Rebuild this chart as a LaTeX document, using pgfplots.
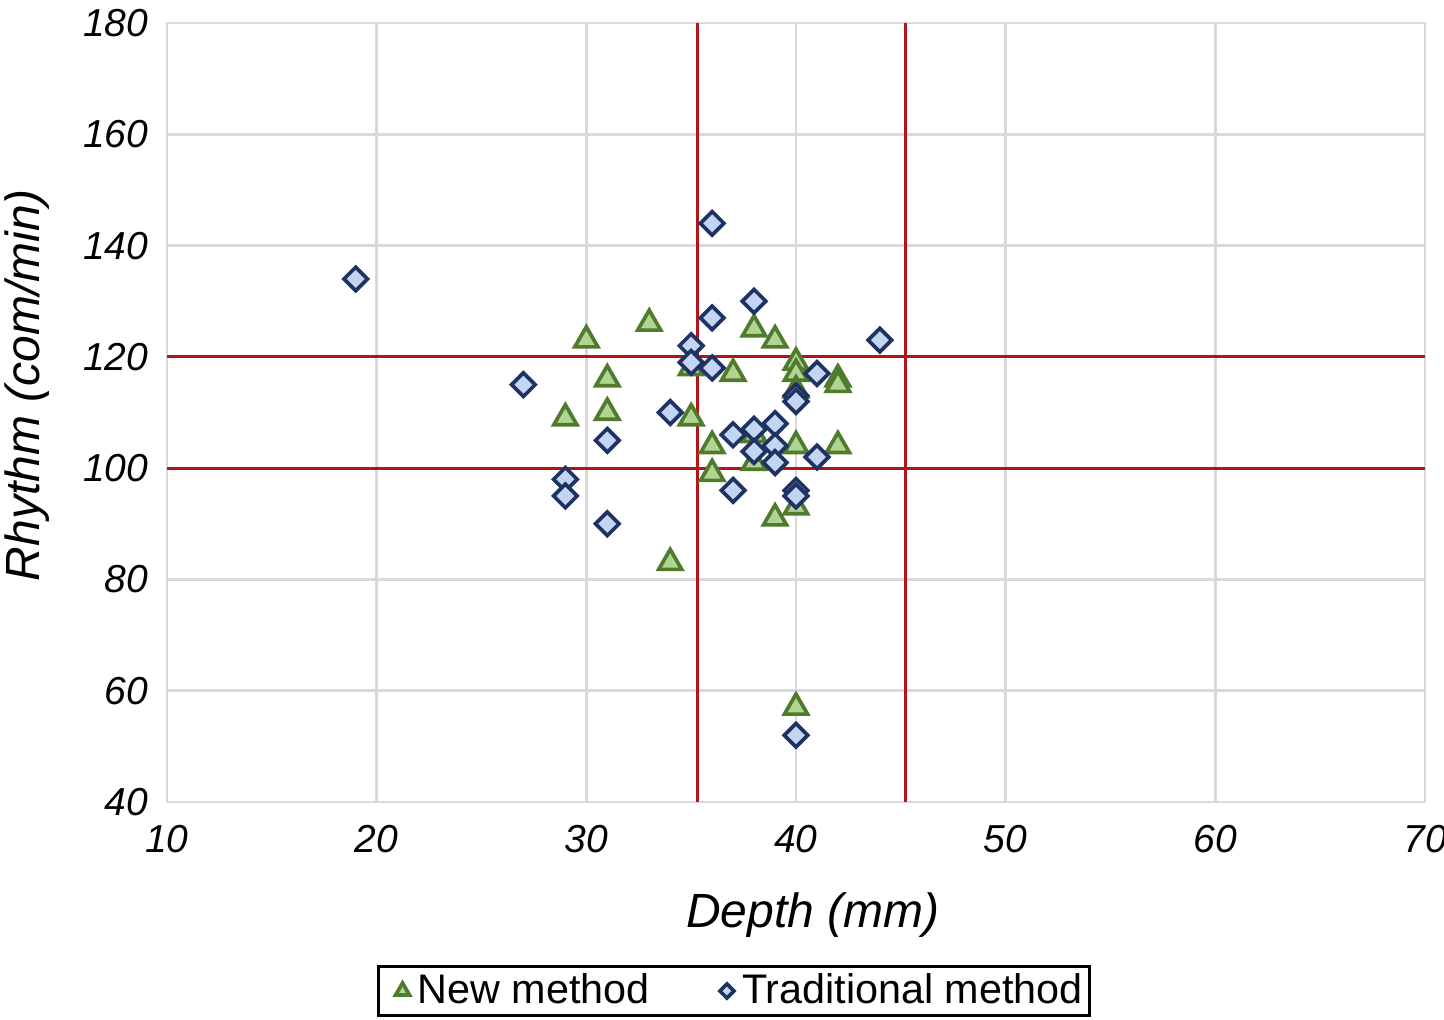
\documentclass[border=0pt]{standalone}
\usepackage{fontspec}
\setmainfont{Liberation Sans}
\usepackage{pgfplots}
\pgfplotsset{compat=1.18}
\definecolor{gridgray}{RGB}{217,217,217}
\definecolor{redline}{RGB}{180,20,24}
\definecolor{trifill}{RGB}{176,212,146}
\definecolor{triedge}{RGB}{80,122,44}
\definecolor{diafill}{RGB}{194,213,242}
\definecolor{diaedge}{RGB}{30,50,100}
\pgfplotsset{myleg/.style={legend image code/.code={\path (0pt,0pt) (8.9pt,0pt);\draw[mark repeat=2,mark phase=2,##1,every mark/.append style={scale=0.6}] plot coordinates {(0pt,0pt)(5.8pt,0pt)(8.9pt,0pt)};}}}
\begin{document}
\begin{tikzpicture}
\begin{axis}[
  at={(0,0)}, anchor=south west,
  scale only axis, width=377.4pt, height=233.7pt,
  xmin=10, xmax=70, ymin=40, ymax=180,
  xtick={10,20,...,70}, ytick={40,60,...,180},
  grid=major, major grid style={gridgray, line width=0.8pt},
  axis line style={gridgray, line width=0.8pt},
  major tick length=0pt,
  /pgf/number format/assume math mode=true,
  ticklabel style={font=\fontsize{11.7}{14}\selectfont\itshape},
  xticklabel style={yshift=-3.4pt},
  yticklabel style={xshift=-2.1pt},
  label style={font=\fontsize{14.4}{17}\selectfont\itshape},
  xlabel={Depth (mm)},
  ylabel={Rhythm (com/min)},
  xlabel style={at={(axis description cs:0.5135,-0.145)}, anchor=center},
  ylabel style={at={(axis description cs:-0.1113,0.5353)}, anchor=center, rotate=0},
  legend columns=2,
  legend style={at={(axis description cs:0.4507,-0.2426)}, anchor=center,
    draw=black, line width=0.9pt, inner xsep=1pt, inner ysep=0.5pt,
    nodes={inner xsep=1pt, inner ysep=1.6pt},
    font=\fontsize{12.4}{15}\selectfont,
    /tikz/every even column/.append style={column sep=15.9pt}},
  legend cell align=left,
  clip=false,
]
\addplot[redline, line width=0.9pt, forget plot] coordinates {(35.3,40) (35.3,180)};
\addplot[redline, line width=0.9pt, forget plot] coordinates {(45.2,40) (45.2,180)};
\addplot[redline, line width=0.9pt, forget plot] coordinates {(10,120) (70,120)};
\addplot[redline, line width=0.9pt, forget plot] coordinates {(10,100) (70,100)};
\addplot[only marks, myleg, mark=triangle*, mark size=4pt,
  mark options={fill=trifill, draw=triedge, line width=1.1pt}]
coordinates {
(30,123) (33,126) (38,125) (39,123) (35,118) (37,117) (40,119) (40,117)
(31,116) (42,116) (42,115) (40,114) (31,110) (29,109) (35,109) (38,106)
(36,104) (40,104) (42,104) (38,101) (36,99) (40,93) (39,91) (34,83) (40,57)
};
\addlegendentry{New method}
\addplot[only marks, myleg, mark=square*, mark size=2.5pt,
  mark options={rotate=45, fill=diafill, draw=diaedge, line width=1.1pt}]
coordinates {
(19,134) (36,144) (38,130) (36,127) (44,123) (35,122) (35,119) (36,118)
(41,117) (27,115) (40,113) (40,112) (34,110) (39,108) (38,107) (37,106)
(31,105) (39,104) (38,103) (41,102) (39,101) (29,98) (40,96) (40,95)
(37,96) (29,95) (31,90) (40,52)
};
\addlegendentry{Traditional method}
\end{axis}
\pgfresetboundingbox
\path[use as bounding box] (-50.1pt,-65.1pt) rectangle (383.1pt,240.6pt);
\end{tikzpicture}
\end{document}
